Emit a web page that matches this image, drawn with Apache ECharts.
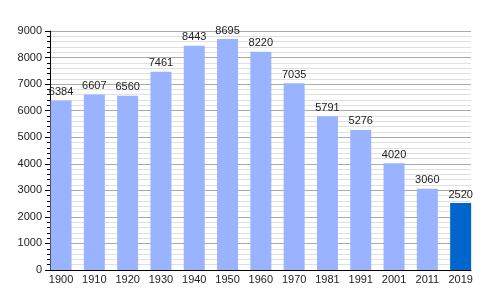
<!DOCTYPE html>
<html><head><meta charset="utf-8">
<script src="https://cdn.jsdelivr.net/npm/echarts@6/dist/echarts.min.js"></script>
<style>html,body{margin:0;padding:0;background:#fff}#c{width:500px;height:300px}</style>
</head><body><div id="c"></div>
<script>
var years = ['1900','1910','1920','1930','1940','1950','1960','1970','1981','1991','2001','2011','2019'];
var population = [6384, 6607, 6560, 7461, 8443, 8695, 8220, 7035, 5791, 5276, 4020, 3060, 2520];
var yTicks = [0, 1000, 2000, 3000, 4000, 5000, 6000, 7000, 8000, 9000];

var chart = echarts.init(document.getElementById('c'), null, {renderer: 'canvas'});
var font = 'Liberation Sans, Arial, sans-serif';
chart.setOption({
  animation: false,
  grid: [
    {left: 44.4, width: 432.9, top: 31, bottom: 30},
    {left: 50, right: 29, top: 31, bottom: 30}
  ],
  xAxis: [
    {type: 'category', gridIndex: 0, data: years, boundaryGap: true,
     axisLine: {show: false}, axisTick: {show: false},
     axisLabel: {color: '#222', fontSize: 11, fontFamily: font, margin: 4, interval: 0}},
    {type: 'value', gridIndex: 1, min: 0, max: 1, show: true,
     axisLine: {show: true, onZero: false, lineStyle: {color: '#000', width: 1}},
     axisTick: {show: false}, axisLabel: {show: false}, splitLine: {show: false}}
  ],
  yAxis: [
    {type: 'value', gridIndex: 0, min: 0, max: yTicks[yTicks.length-1], show: false},
    {type: 'value', gridIndex: 1, min: 0, max: yTicks[yTicks.length-1], interval: 1000,
     axisLine: {show: true, lineStyle: {color: '#000', width: 1}},
     axisTick: {show: true, length: 5, lineStyle: {color: '#000'}},
     minorTick: {show: true, splitNumber: 5, length: 3, lineStyle: {color: '#000'}},
     axisLabel: {color: '#222', fontSize: 11, fontFamily: font, margin: 8,
       formatter: function(v){ return String(v); }},
     splitLine: {show: true, lineStyle: {color: '#aaaaaa', width: 1}},
     minorSplitLine: {show: true, lineStyle: {color: '#e0e0e0', width: 1}}}
  ],
  series: [{
    type: 'bar', xAxisIndex: 0, yAxisIndex: 0,
    data: population.map(function(v, i){
      return i === population.length - 1 ? {value: v, itemStyle: {color: '#0066cc'}} : v;
    }),
    barWidth: 21,
    itemStyle: {color: '#99b3ff'},
    label: {show: true, position: 'top', distance: 3, color: '#222', fontSize: 11, fontFamily: font},
    z: 3
  }]
});
</script></body></html>
